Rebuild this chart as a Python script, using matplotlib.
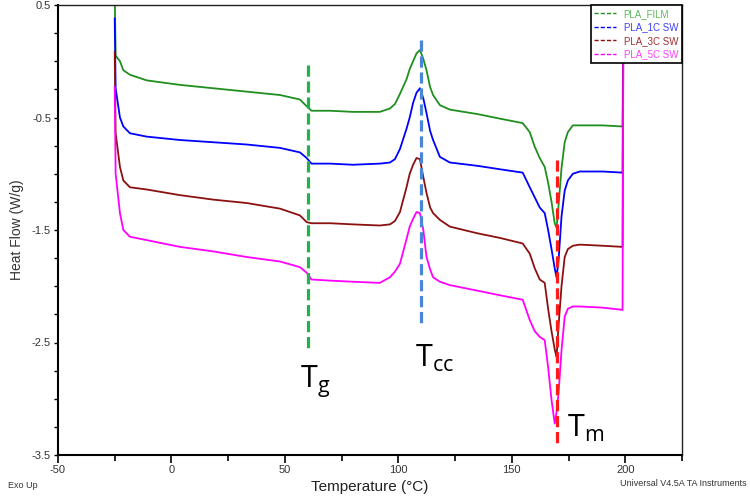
import matplotlib
matplotlib.use("Agg")
import numpy as np
import pandas as pd
import matplotlib.pyplot as plt
from matplotlib.lines import Line2D

# ──────────────────────────────────────────────
# data
temp = [-25.0, -24.6, -22.7, -21.2, -18.3, -10.9, 3.7, 18.4, 33.1, 47.8,
        56.6, 59.6, 61.7, 70, 80, 91.8, 96.3, 98.5, 100.7, 103.6,
        105, 106.5, 108, 109.5, 111, 112.4, 114, 115.3, 118.3, 122.7,
        135, 144.7, 154.8, 157.9, 160.1, 162.3, 164.5, 166, 167.5, 168.9,
        169.7, 170.6, 171.9, 173.3, 174.7, 176.9, 180, 190, 198.8, 199.2]

pla_film = [0.60, 0.05, 0.00, -0.08, -0.12, -0.17, -0.21, -0.24, -0.27, -0.30,
            -0.34, -0.40, -0.44, -0.44, -0.45, -0.45, -0.42, -0.38, -0.29, -0.16,
            -0.07, 0.00, 0.07, 0.10, 0.02, -0.08, -0.23, -0.30, -0.39, -0.43,
            -0.47, -0.51, -0.55, -0.63, -0.76, -0.86, -0.94, -1.08, -1.25, -1.44,
            -1.48, -1.28, -0.95, -0.72, -0.63, -0.57, -0.57, -0.57, -0.58, 0.60]

pla_1c = [0.38, -0.24, -0.50, -0.58, -0.64, -0.67, -0.70, -0.72, -0.74, -0.77,
          -0.81, -0.86, -0.91, -0.91, -0.92, -0.91, -0.90, -0.87, -0.78, -0.60,
          -0.50, -0.37, -0.28, -0.24, -0.33, -0.46, -0.62, -0.70, -0.85, -0.90,
          -0.93, -0.96, -0.99, -1.12, -1.21, -1.30, -1.35, -1.50, -1.67, -1.84,
          -1.92, -1.77, -1.38, -1.15, -1.06, -1.00, -0.98, -0.98, -0.99, 0.60]

pla_3c = [0.08, -0.64, -0.94, -1.06, -1.12, -1.14, -1.19, -1.23, -1.26, -1.31,
          -1.37, -1.43, -1.44, -1.44, -1.45, -1.46, -1.45, -1.42, -1.34, -1.12,
          -1.00, -0.92, -0.86, -0.87, -1.03, -1.17, -1.30, -1.35, -1.41, -1.47,
          -1.53, -1.57, -1.62, -1.71, -1.84, -1.94, -1.97, -2.20, -2.40, -2.56,
          -2.63, -2.35, -2.00, -1.74, -1.67, -1.64, -1.63, -1.64, -1.65, 0.60]

pla_5c = [-0.23, -1.00, -1.35, -1.50, -1.56, -1.59, -1.65, -1.69, -1.74, -1.78,
          -1.83, -1.88, -1.94, -1.95, -1.96, -1.97, -1.92, -1.87, -1.80, -1.58,
          -1.47, -1.40, -1.34, -1.35, -1.50, -1.74, -1.85, -1.92, -1.96, -1.99,
          -2.04, -2.08, -2.12, -2.30, -2.40, -2.45, -2.48, -2.72, -3.01, -3.22,
          -3.12, -2.95, -2.57, -2.27, -2.20, -2.18, -2.18, -2.19, -2.21, 0.60]

labels = ["PLA_FILM", "PLA_1C SW", "PLA_3C SW", "PLA_5C SW"]
colors = ["#1f8f1f", "#0000ff", "#8b1010", "#ff00ff"]
text_colors = ["#5cb85c", "#4040ff", "#a03030", "#ff40ff"]

# transition markers: (temperature, y start, y end)
t_marks = {"Tg": (60, -0.03, -2.57), "Tcc": (110, 0.19, -2.36), "Tm": (170, -0.88, -3.43)}
mark_colors = {"Tg": "#22b14c", "Tcc": "#4a86d8", "Tm": "#ff1a1a"}

df = pd.DataFrame({"T": temp, labels[0]: pla_film, labels[1]: pla_1c,
                   labels[2]: pla_3c, labels[3]: pla_5c})

plt.rcParams['font.family'] = ['Liberation Sans', 'DejaVu Sans']
plt.rcParams['axes.unicode_minus'] = False
plt.rcParams['mathtext.fontset'] = 'custom'
plt.rcParams['mathtext.rm'] = 'Open Sans'

fig = plt.figure(figsize=(7.5, 4.99), dpi=100)
ax = fig.add_axes([58/750, 1-455/499, 624/750, 450/499])

for lab, c in zip(labels, colors):
    ax.plot(df["T"], df[lab], color=c, lw=1.3)

for key, (xv, y0, y1) in t_marks.items():
    ax.plot([xv, xv], [y0, y1], color=mark_colors[key], lw=2.3, ls=(0, (3.5, 1.5)))

ax.text(56.6, -2.90, r'$\mathrm{T_{g}}$', fontsize=22, ha='left', va='baseline')
ax.text(107.3, -2.72, r'$\mathrm{T_{cc}}$', fontsize=22, ha='left', va='baseline')
ax.text(174.2, -3.34, r'$\mathrm{T_{m}}$', fontsize=22, ha='left', va='baseline')

ax.set_xlim(-50, 225)
ax.set_ylim(-3.5, 0.5)
ax.set_xticks([-50, 0, 50, 100, 150, 200])
ax.set_xticks(np.arange(-50, 226, 25), minor=True)
ax.set_yticks([0.5, -0.5, -1.5, -2.5, -3.5])
ax.set_yticks(np.arange(-3.5, 0.51, 0.25), minor=True)
ax.tick_params(axis='both', which='both', direction='out', labelsize=8, labelcolor='#333333')
ax.tick_params(axis='x', which='major', length=6, width=1.2, pad=1)
ax.tick_params(axis='x', which='minor', length=4, width=1.2)
ax.tick_params(axis='y', which='both', length=3, width=1.0, pad=2)

for s in ['left', 'bottom']:
    ax.spines[s].set_linewidth(1.5)
for s in ['top', 'right']:
    ax.spines[s].set_linewidth(1.0)
    ax.spines[s].set_color('#222222')

ax.set_ylabel('Heat Flow (W/g)', fontsize=10, color='#333333', labelpad=6)
ax.set_xlabel('Temperature (°C)', fontsize=11, color='#222222',
              family=['Liberation Sans Narrow', 'Liberation Sans'], labelpad=4)

fig.text(8/750, 1-485/499, 'Exo Up', fontsize=6.5, color='#333333', va='center')
fig.text(747/750, 1-484/499, 'Universal V4.5A TA Instruments', fontsize=6.5,
         color='#333333', va='center', ha='right')

handles = [Line2D([0], [0], color=c, lw=1.0, ls=(0, (3, 1.5))) for c in colors]
leg = ax.legend(handles, labels, loc='upper right', bbox_to_anchor=(1, 1),
                borderaxespad=0, fontsize=7, handlelength=2.2, handletextpad=0.8,
                labelspacing=0.35, fancybox=False, edgecolor='black', framealpha=1)
leg.get_frame().set_linewidth(1.2)
for t, c in zip(leg.get_texts(), text_colors):
    t.set_color(c)

fig.savefig("out.png", dpi=100)
